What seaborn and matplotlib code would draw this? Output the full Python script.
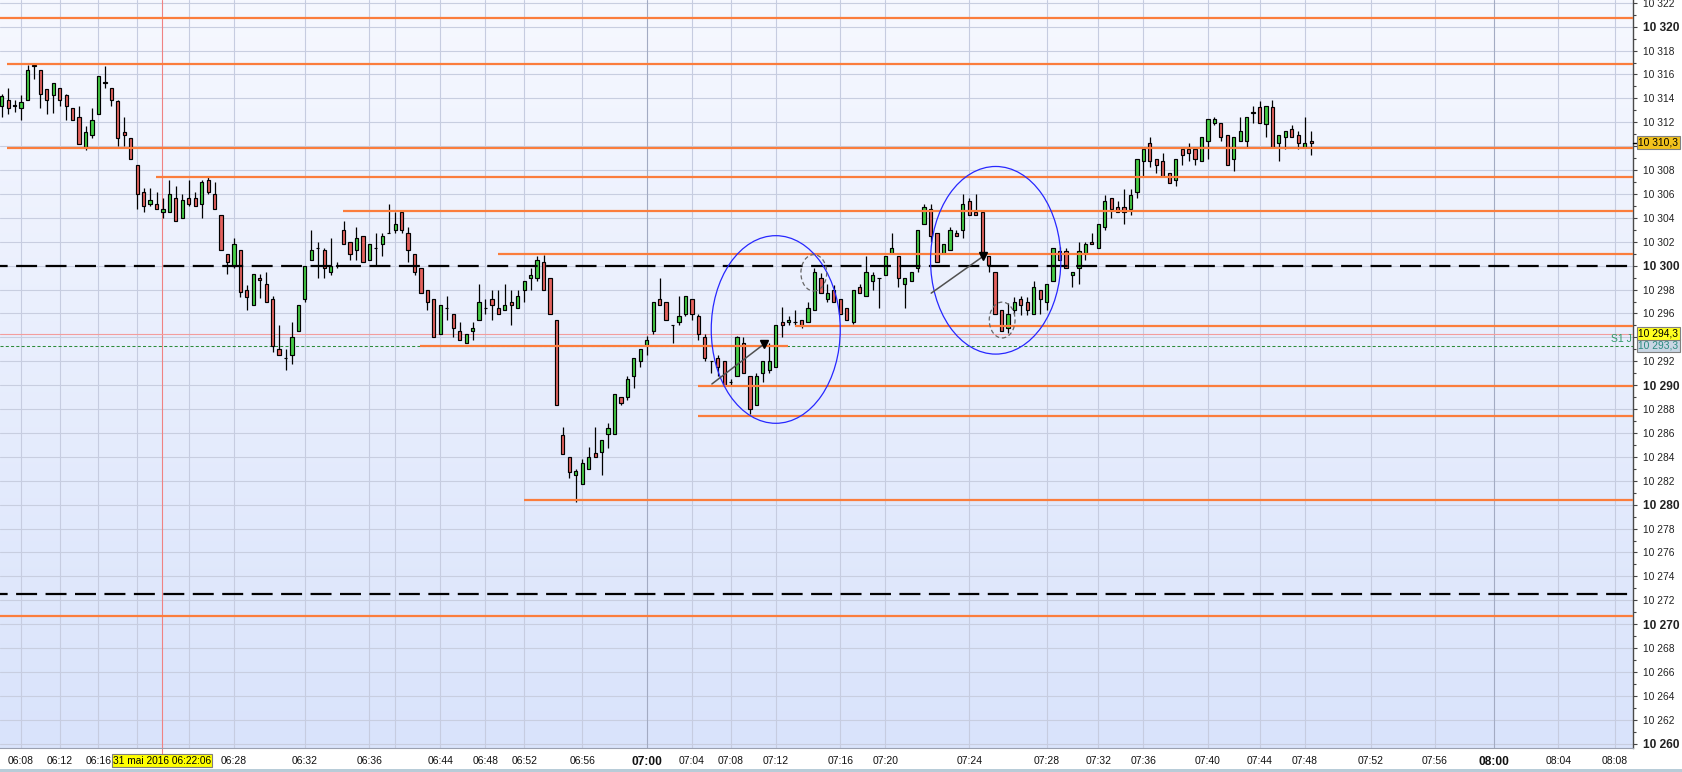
import matplotlib
matplotlib.use("Agg")
import matplotlib.pyplot as plt
import matplotlib.transforms as mtransforms
from matplotlib.colors import LinearSegmentedColormap
from matplotlib.patches import Ellipse, Rectangle
import numpy as np
import seaborn as sns

# ---------------- data ----------------
opens = [10313.4, 10313.9, 10313.4, 10313.2, 10313.9, 10316.75, 10316.4, 10314.8, 10314.25, 10314.9,
         10314.3, 10313.2, 10312.4, 10309.9, 10310.9, 10312.7, 10315.4, 10314.9, 10313.75, 10311.2,
         10310.7, 10308.4, 10306.2, 10305.2, 10305.2, 10304.5, 10304.5, 10305.7, 10304.0, 10305.7,
         10305.7, 10305.2, 10307.2, 10306.0, 10304.2, 10300.95, 10300.0, 10301.3, 10298.0, 10296.75,
         10298.95, 10298.45, 10297.25, 10293.0, 10292.25, 10292.5, 10294.5, 10297.25, 10300.45, 10301.45,
         10301.3, 10299.45, 10300.0, 10302.95, 10301.95, 10301.3, 10302.45, 10300.45, 10301.45, 10301.8,
         10302.7, 10302.95, 10304.45, 10302.7, 10300.95, 10299.8, 10297.95, 10297.25, 10294.25, 10296.45,
         10295.95, 10294.5, 10293.5, 10294.5, 10295.45, 10296.45, 10297.25, 10296.45, 10296.25, 10296.95,
         10296.45, 10297.95, 10298.95, 10298.95, 10300.3, 10298.95, 10295.45, 10285.85, 10283.95, 10282.45,
         10281.75, 10282.95, 10284.3, 10284.45, 10285.95, 10285.95, 10289.0, 10289.0, 10290.75, 10292.0,
         10293.35, 10294.5, 10297.25, 10296.95, 10295.0, 10295.25, 10295.95, 10297.25, 10295.75, 10294.0,
         10292.0, 10292.25, 10292.0, 10290.25, 10290.75, 10293.5, 10290.75, 10288.3, 10291.0, 10291.25,
         10291.5, 10295.25, 10295.25, 10295.25, 10295.45, 10295.25, 10296.25, 10298.95, 10297.25, 10297.95,
         10297.25, 10296.45, 10295.25, 10298.25, 10297.45, 10298.75, 10298.95, 10299.25, 10301.05, 10300.8,
         10298.45, 10298.75, 10299.8, 10303.45, 10304.7, 10302.7, 10301.05, 10301.3, 10302.7, 10302.95,
         10305.45, 10304.45, 10304.45, 10300.8, 10299.45, 10296.25, 10294.75, 10296.25, 10297.25, 10296.95,
         10295.95, 10297.95, 10296.95, 10298.75, 10301.25, 10301.25, 10299.25, 10299.8, 10301.05, 10301.95,
         10301.45, 10303.2, 10305.7, 10304.95, 10304.95, 10304.7, 10306.2, 10308.75, 10310.25, 10308.9,
         10308.75, 10307.75, 10307.2, 10309.75, 10309.75, 10309.75, 10308.75, 10310.4, 10311.9, 10311.9,
         10310.9, 10308.9, 10310.4, 10310.4, 10312.75, 10313.25, 10311.85, 10313.25, 10310.25, 10310.75,
         10311.4, 10310.9, 10309.9, 10310.4]

highs = [10314.4, 10314.9, 10313.9, 10314.3, 10316.8, 10316.9, 10316.4, 10314.8, 10315.3, 10314.9,
         10314.4, 10313.2, 10313.4, 10311.7, 10313.2, 10315.9, 10316.7, 10314.9, 10313.9, 10312.4,
         10310.7, 10308.4, 10306.5, 10306.5, 10306.2, 10305.7, 10307.2, 10306.7, 10306.0, 10307.2,
         10306.2, 10307.2, 10307.4, 10307.0, 10304.2, 10300.95, 10302.3, 10301.3, 10298.4, 10299.3,
         10299.3, 10299.45, 10297.45, 10295.0, 10293.0, 10295.25, 10296.75, 10299.95, 10302.95, 10301.95,
         10301.45, 10302.3, 10300.3, 10303.7, 10301.95, 10303.2, 10302.45, 10301.8, 10302.7, 10302.7,
         10305.2, 10304.45, 10304.45, 10303.2, 10300.95, 10299.8, 10297.95, 10297.25, 10296.75, 10297.45,
         10295.95, 10295.25, 10294.25, 10295.25, 10298.45, 10297.25, 10297.95, 10297.95, 10298.45, 10298.0,
         10297.95, 10298.75, 10299.8, 10300.8, 10300.9, 10298.95, 10295.45, 10286.5, 10283.95, 10283.0,
         10283.8, 10284.8, 10286.5, 10285.45, 10286.8, 10289.3, 10289.0, 10290.75, 10292.25, 10293.0,
         10294.15, 10296.95, 10298.95, 10296.95, 10295.0, 10297.45, 10297.45, 10297.25, 10295.95, 10294.25,
         10292.0, 10292.5, 10292.0, 10290.5, 10294.15, 10294.0, 10290.75, 10291.0, 10292.0, 10293.5,
         10295.0, 10296.5, 10295.75, 10296.25, 10295.45, 10296.95, 10299.8, 10299.35, 10298.5, 10298.35,
         10297.25, 10296.45, 10297.95, 10298.45, 10300.8, 10299.45, 10298.95, 10300.8, 10302.7, 10300.8,
         10298.95, 10299.45, 10302.95, 10305.2, 10305.2, 10302.7, 10301.8, 10303.2, 10302.95, 10306.0,
         10305.7, 10306.0, 10304.45, 10300.8, 10299.45, 10296.25, 10296.85, 10297.35, 10297.45, 10297.35,
         10298.75, 10297.95, 10298.45, 10301.45, 10301.6, 10301.45, 10299.45, 10301.95, 10301.95, 10302.7,
         10303.45, 10305.95, 10305.7, 10305.45, 10306.45, 10306.45, 10308.9, 10309.8, 10310.75, 10308.9,
         10309.4, 10307.75, 10308.9, 10309.75, 10310.25, 10309.75, 10310.75, 10312.25, 10312.4, 10311.9,
         10310.9, 10310.75, 10312.4, 10312.4, 10313.4, 10313.75, 10313.4, 10313.9, 10310.9, 10311.25,
         10311.75, 10311.25, 10312.4, 10311.25]

lows = [10312.4, 10312.7, 10312.9, 10312.2, 10313.9, 10315.6, 10313.2, 10312.7, 10312.75, 10313.4,
        10312.2, 10312.2, 10310.2, 10309.7, 10310.7, 10312.7, 10314.9, 10313.4, 10310.0, 10310.0,
        10308.9, 10304.7, 10304.5, 10305.0, 10304.7, 10304.0, 10304.5, 10303.7, 10304.0, 10305.0,
        10305.0, 10304.0, 10306.0, 10304.7, 10301.3, 10299.3, 10299.8, 10297.4, 10296.3, 10296.75,
        10297.3, 10296.95, 10292.75, 10292.5, 10291.25, 10291.75, 10294.5, 10296.95, 10300.45, 10298.95,
        10298.95, 10299.25, 10299.8, 10301.8, 10300.45, 10300.45, 10300.3, 10300.45, 10299.95, 10300.8,
        10302.7, 10302.7, 10302.7, 10300.3, 10299.25, 10297.75, 10296.25, 10294.0, 10294.25, 10295.45,
        10294.0, 10293.75, 10293.5, 10293.75, 10295.45, 10295.95, 10295.45, 10295.95, 10296.25, 10295.0,
        10296.45, 10296.95, 10297.95, 10298.75, 10297.95, 10295.95, 10288.3, 10284.25, 10282.25, 10280.25,
        10281.75, 10282.95, 10283.95, 10282.45, 10284.75, 10285.95, 10288.3, 10288.8, 10289.8, 10291.5,
        10292.5, 10294.25, 10296.75, 10295.45, 10293.5, 10295.0, 10295.75, 10295.45, 10293.75, 10292.0,
        10291.0, 10290.75, 10290.0, 10290.0, 10290.75, 10291.0, 10287.6, 10288.3, 10290.25, 10291.0,
        10291.5, 10294.0, 10295.0, 10295.0, 10294.75, 10295.25, 10296.25, 10297.75, 10296.95, 10296.95,
        10295.95, 10295.45, 10295.1, 10297.75, 10297.45, 10297.95, 10296.45, 10299.25, 10301.05, 10298.25,
        10296.45, 10298.75, 10299.45, 10303.45, 10301.95, 10300.3, 10301.05, 10301.3, 10302.45, 10302.3,
        10304.2, 10304.2, 10300.7, 10299.45, 10295.95, 10294.5, 10294.35, 10295.95, 10295.85, 10295.85,
        10295.95, 10295.95, 10296.25, 10298.75, 10300.45, 10299.8, 10298.25, 10298.45, 10300.45, 10301.8,
        10301.45, 10302.95, 10303.95, 10304.45, 10303.45, 10304.2, 10305.7, 10307.5, 10308.25, 10307.75,
        10307.5, 10306.95, 10306.7, 10308.4, 10308.75, 10308.4, 10308.75, 10308.9, 10311.75, 10310.4,
        10308.4, 10307.9, 10310.4, 10309.9, 10311.9, 10311.9, 10310.75, 10309.9, 10308.75, 10309.75,
        10310.75, 10309.75, 10309.9, 10309.25]

closes = [10314.2, 10313.2, 10313.4, 10313.7, 10316.4, 10316.7, 10314.4, 10313.9, 10315.3, 10313.9,
          10313.4, 10312.2, 10310.2, 10311.2, 10312.2, 10315.9, 10315.3, 10313.9, 10310.7, 10310.9,
          10308.9, 10306.0, 10305.0, 10305.5, 10304.7, 10304.7, 10306.0, 10303.7, 10305.5, 10305.2,
          10305.0, 10307.0, 10306.2, 10304.7, 10301.3, 10300.3, 10301.8, 10297.8, 10297.4, 10299.3,
          10298.8, 10296.95, 10293.25, 10292.5, 10292.25, 10294.0, 10296.75, 10299.95, 10301.3, 10301.45,
          10299.8, 10299.95, 10300.0, 10301.8, 10300.95, 10302.3, 10300.3, 10301.8, 10301.45, 10302.45,
          10302.7, 10303.45, 10302.95, 10301.3, 10299.45, 10297.75, 10296.95, 10294.0, 10296.75, 10296.45,
          10294.75, 10293.75, 10294.25, 10294.75, 10296.95, 10296.45, 10296.75, 10295.95, 10296.75, 10296.75,
          10297.45, 10298.75, 10299.25, 10300.45, 10297.95, 10295.95, 10288.3, 10284.25, 10282.75, 10282.8,
          10283.5, 10284.0, 10283.95, 10285.45, 10286.45, 10289.3, 10288.5, 10290.5, 10292.25, 10293.0,
          10293.75, 10296.95, 10296.75, 10295.45, 10295.0, 10295.75, 10297.45, 10295.95, 10294.25, 10292.25,
          10292.0, 10291.5, 10290.0, 10290.25, 10294.0, 10291.0, 10288.0, 10290.75, 10292.0, 10292.0,
          10295.0, 10295.0, 10295.45, 10295.25, 10295.0, 10296.45, 10299.45, 10297.75, 10297.75, 10296.95,
          10295.95, 10295.45, 10297.95, 10297.75, 10299.45, 10299.25, 10298.95, 10300.8, 10301.45, 10298.95,
          10298.95, 10299.45, 10302.95, 10304.95, 10302.45, 10300.3, 10301.8, 10302.95, 10302.45, 10305.2,
          10304.2, 10304.2, 10300.7, 10300.05, 10295.95, 10294.5, 10295.95, 10296.95, 10296.75, 10296.25,
          10298.25, 10297.25, 10298.45, 10301.45, 10300.45, 10299.8, 10299.45, 10301.25, 10301.8, 10301.8,
          10303.45, 10305.45, 10304.7, 10304.45, 10304.45, 10305.95, 10308.9, 10309.8, 10308.75, 10308.4,
          10307.5, 10306.95, 10308.9, 10309.25, 10309.4, 10308.9, 10310.75, 10312.25, 10312.25, 10310.75,
          10308.4, 10310.75, 10311.25, 10312.4, 10312.9, 10311.9, 10313.4, 10309.9, 10310.9, 10311.25,
          10310.75, 10310.25, 10310.25, 10310.3]

# time axis (bars are not evenly spaced in time, so ticks sit at bar positions)
time_labels = ["06:08", "06:12", "06:16", "06:20", "06:24", "06:28", "06:32", "06:36", "06:40",
               "06:44", "06:48", "06:52", "06:56", "07:00", "07:04", "07:08", "07:12", "07:16",
               "07:20", "07:24", "07:28", "07:32", "07:36", "07:40", "07:44", "07:48", "07:52",
               "07:56", "08:00", "08:04", "08:08"]
time_ticks = [3, 9, 15, 21, 29, 36, 47, 57, 61, 68, 75, 81, 90, 100, 107, 113, 120, 130,
              137, 150, 162, 170, 177, 187, 195, 202, 212.3, 222.2, 231.4, 241.3, 250.1]
hidden_labels = ["06:20", "06:24", "06:40"]
bold_labels = ["07:00", "08:00"]

# drawn support / resistance levels
orange_levels = [10320.75, 10316.85, 10309.87, 10307.45, 10304.6, 10301.0,
                 10293.3, 10294.98, 10289.9, 10287.4, 10280.4, 10270.7]
orange_from = [None, 0.8, 0.8, 23.9, 52.9, 76.9, 64.8, 123.0, 108.0, 108.0, 81.0, None]
orange_to = [None, None, None, None, None, None, 121.9, None, None, None, None, None]
pivot_levels = [10300.0, 10272.5]
s1_level = 10293.3
prev_level = 10294.3
last_price = closes[-1]

cursor_bar = 24.85
cursor_text = "31 mai 2016 06:22:06"

# hand drawings: (bar, price, width in bars, height in points)
zones = [(120.0, 10294.66, 20.0, 15.7), (154.1, 10300.45, 20.2, 15.7)]
marks = [(125.9, 10299.4, 4.0, 3.05), (155.1, 10295.45, 4.0, 3.0)]
arrows = [(110.1, 10290.1, 118.2, 10293.45), (144.1, 10297.7, 152.2, 10300.8)]


def fmt_price(v, decimals=0):
    whole = int(v)
    s = f"{whole // 1000} {whole % 1000:03d}"
    if decimals:
        s += "," + f"{v:.{decimals}f}".split(".")[1]
    return s


# ---------------- figure ----------------
sns.set_style("white")
plt.rcParams["font.family"] = ["Liberation Sans", "DejaVu Sans"]
plt.rcParams["lines.scale_dashes"] = False

fig = plt.figure(figsize=(16.83, 7.72), dpi=100, facecolor="white")
ax = fig.add_axes([0, 24 / 772, 1633 / 1683, 748 / 772])

x_min, x_max = -0.264, 252.9
y_min, y_max = 10259.64, 10322.23

# background gradient
bg = LinearSegmentedColormap.from_list("bg", ["#f6f8ff", "#d9e3fb"])
ax.imshow(np.linspace(0, 1, 256).reshape(-1, 1), cmap=bg, extent=[0, 1, 0, 1],
          transform=ax.transAxes, aspect="auto", zorder=0)

# grid
for p in np.arange(10260, 10323, 2):
    ax.axhline(p, color="#c8cee0", lw=0.8, zorder=1)
for t, lab in zip(time_ticks, time_labels):
    ax.axvline(t, color="#a3abc3" if lab in bold_labels else "#c6cce0", lw=0.8, zorder=1)

# cursor line
xblend = mtransforms.blended_transform_factory(ax.transData, ax.transAxes)
yblend = mtransforms.blended_transform_factory(ax.transAxes, ax.transData)
ax.plot([cursor_bar, cursor_bar], [-0.01, 1], transform=xblend, color="#f08282",
        lw=0.8, zorder=2, clip_on=False)

# candles
o = np.array(opens)
h = np.array(highs)
l = np.array(lows)
c = np.array(closes)
bars = np.arange(len(o))
body_colors = np.where(c > o, "#45cc45", np.where(c < o, "#e4625e", "black"))
ax.vlines(bars, l, h, color="black", lw=0.9, zorder=4)
ax.bar(bars, np.maximum(np.abs(c - o), 0.03), bottom=np.minimum(o, c), width=0.5,
       color=body_colors, edgecolor="black", linewidth=0.85, zorder=5)

# levels
for lev, x0, x1 in zip(orange_levels, orange_from, orange_to):
    ax.hlines(lev, x_min if x0 is None else x0, x_max if x1 is None else x1,
              color="#fb7d3c", lw=1.6, zorder=6)
for lev in pivot_levels:
    ax.hlines(lev, x_min, 252.2, color="black", lw=1.6,
              linestyles=[(9.6, (15.1, 6.1))], zorder=6)
ax.axhline(prev_level, color="#f39d9d", lw=0.8, zorder=3)
ax.axhline(s1_level, color="#2e8b3a", lw=0.75, ls=(0, (2.2, 1.6)), zorder=3)
ax.text(0.9992, s1_level + 0.15, "S1 J", transform=yblend, ha="right", va="bottom",
        color="#2f9a68", fontsize=7.5, zorder=8)

# hand drawings
for cx, cy, w, hh in zones:
    ax.add_patch(Ellipse((cx, cy), w, hh, fill=False, edgecolor="#2727ff", lw=0.9, zorder=7))
for cx, cy, w, hh in marks:
    ax.add_patch(Ellipse((cx, cy), w, hh, fill=False, edgecolor="#666666", lw=0.9,
                         ls=(0, (3, 2)), zorder=7))
for x0, y0, x1, y1 in arrows:
    ax.plot([x0, x1], [y0, y1], color="#505050", lw=1.1, zorder=7)
    ax.plot(x1, y1, marker="v", color="black", ms=6, zorder=7)

ax.set_xlim(x_min, x_max)
ax.set_ylim(y_min, y_max)

# x axis
ax.set_xticks(time_ticks)
ax.set_xticklabels(["" if t in hidden_labels else t for t in time_labels])
ax.tick_params(axis="x", direction="out", length=3, width=0.8, color="#8a8a8a",
               pad=3, labelsize=7.5, labelcolor="#111111")
for lbl, t in zip(ax.get_xticklabels(), time_labels):
    if t in bold_labels:
        lbl.set_fontweight("bold")
        lbl.set_fontsize(8.6)

# y axis on the right
ax.yaxis.tick_right()
yt = np.arange(10260, 10323, 2)
ax.set_yticks(yt)
ax.set_yticklabels(["" if v in (10294, 10310) else fmt_price(v) for v in yt])
ax.set_yticks(np.arange(10261, 10323, 2), minor=True)
ax.tick_params(axis="y", which="major", direction="out", length=3, width=0.8,
               color="#444444", pad=4, labelsize=7.4, labelcolor="#222222")
ax.tick_params(axis="y", which="minor", direction="out", length=2, width=0.8, color="#444444")
for lbl, v in zip(ax.get_yticklabels(), yt):
    if v % 10 == 0:
        lbl.set_fontweight("bold")
        lbl.set_fontsize(8.6)

for side in ["top", "left"]:
    ax.spines[side].set_visible(False)
ax.spines["right"].set_color("#4a4a4a")
ax.spines["right"].set_linewidth(1.0)
ax.spines["bottom"].set_color("#9aa0b0")
ax.spines["bottom"].set_linewidth(0.8)

# price boxes on the axis
ax.plot([1.0, 1.004], [last_price, last_price], transform=yblend, color="black",
        lw=1, clip_on=False, zorder=9)
box_specs = [(s1_level, fmt_price(s1_level, 1), "#c9d6e4", "#2a8a80"),
             (prev_level, fmt_price(prev_level, 1), "#ffff20", "black"),
             (last_price, fmt_price(last_price, 1), "#f3c21c", "black")]
for lev, txt, fc, tc in box_specs:
    ax.text(1.0033, lev, txt, transform=yblend, ha="left", va="center", fontsize=7.4,
            color=tc, clip_on=False, zorder=10,
            bbox=dict(boxstyle="square,pad=0.14", fc=fc, ec="#808080", lw=0.8))

# cursor date box
ax.text(cursor_bar, -0.017, cursor_text, transform=xblend, ha="center", va="center",
        fontsize=7.3, color="black", clip_on=False, zorder=20,
        bbox=dict(boxstyle="square,pad=0.12", fc="#ffff00", ec="#7f7f7f", lw=0.8))

fig.patches.append(Rectangle((0, 0), 1, 3.5 / 772, transform=fig.transFigure,
                             fc="#b8ccd8", ec="none"))

fig.savefig("out.png", dpi=100, facecolor="white")
